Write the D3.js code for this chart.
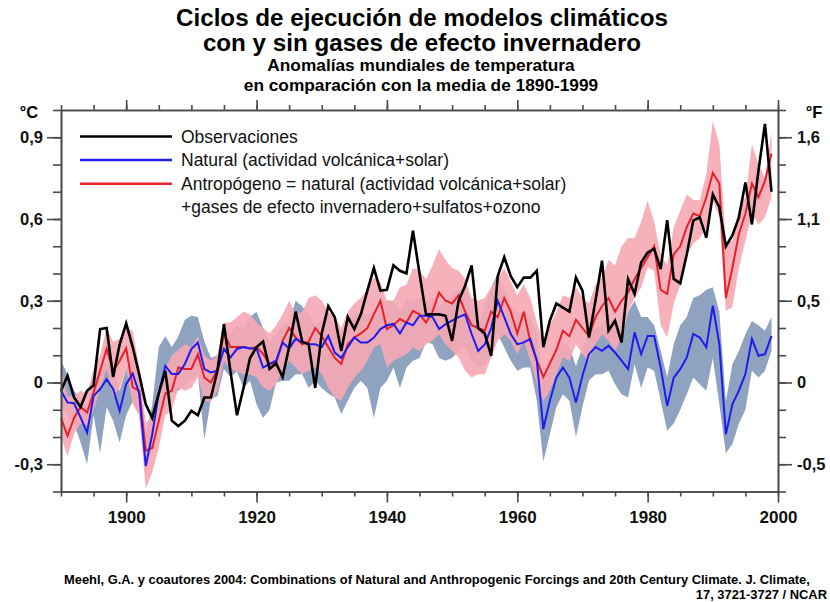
<!DOCTYPE html>
<html>
<head>
<meta charset="utf-8">
<script src="https://cdn.jsdelivr.net/npm/d3@7"></script>
<style>
  body { margin: 0; background: #fff; }
  svg { display: block; font-family: "Liberation Sans", Arial, sans-serif; }
</style>
</head>
<body>
<svg id="chart"></svg>
<script>
// datos: anomalías anuales 1890-1999 (°C)
const firstYear = 1890;

const observaciones = [
  -0.03, 0.025, -0.055, -0.09, -0.03, -0.01, 0.196, 0.20, 0.02, 0.14,
  0.217, 0.13, 0.03, -0.08, -0.13, -0.04, 0.043, -0.14, -0.16, -0.14,
  -0.104, -0.12, -0.055, -0.055, 0.043, 0.214, 0.04, -0.12, -0.02, 0.09,
  0.13, 0.15, 0.05, 0.07, 0.02, 0.13, 0.26, 0.15, 0.14, -0.02,
  0.18, 0.28, 0.24, 0.116, 0.24, 0.196, 0.25, 0.337, 0.42, 0.337,
  0.34, 0.43, 0.41, 0.40, 0.557, 0.40, 0.25, 0.25, 0.25, 0.245,
  0.153, 0.30, 0.355, 0.43, 0.20, 0.18, 0.098, 0.39, 0.46, 0.39,
  0.35, 0.385, 0.385, 0.41, 0.13, 0.227, 0.29, 0.275, 0.26, 0.385,
  0.337, 0.165, 0.30, 0.447, 0.19, 0.227, 0.147, 0.38, 0.325, 0.44,
  0.477, 0.49, 0.416, 0.596, 0.38, 0.364, 0.47, 0.594, 0.606, 0.532,
  0.69, 0.643, 0.50, 0.54, 0.606, 0.734, 0.58, 0.777, 0.949, 0.70
];

const natural = [
  -0.03, -0.073, -0.076, -0.128, -0.184, -0.05, -0.024, 0.012, -0.024, -0.104,
  -0.006, 0.033, -0.04, -0.306, -0.19, -0.04, 0.061, 0.031, 0.031, 0.068,
  0.123, 0.147, 0.049, 0.037, 0.043, 0.123, 0.092, 0.123, 0.13, 0.125,
  0.125, 0.055, 0.068, 0.08, 0.147, 0.125, 0.16, 0.147, 0.14, 0.14,
  0.13, 0.171, 0.11, 0.09, 0.13, 0.165, 0.147, 0.147, 0.165, 0.196,
  0.21, 0.215, 0.18, 0.22, 0.21, 0.245, 0.245, 0.24, 0.196, 0.214,
  0.227, 0.24, 0.25, 0.178, 0.116, 0.14, 0.20, 0.30, 0.24, 0.178,
  0.14, 0.147, 0.16, 0.08, -0.171, -0.067, 0.018, 0.055, 0.018, -0.073,
  0.025, 0.104, 0.13, 0.116, 0.135, 0.11, 0.08, 0.049, 0.184, 0.104,
  0.171, 0.171, 0.055, -0.086, 0.018, 0.049, 0.092, 0.178, 0.165, 0.129,
  0.282, 0.141, -0.19, -0.08, -0.03, 0.031, 0.16, 0.098, 0.104, 0.171
];

const naturalMax = [
  0.08, 0.03, -0.03, -0.06, -0.09, 0.02, 0.03, 0.08, 0.05, -0.03,
  0.05, 0.09, 0.01, -0.20, -0.08, 0.13, 0.17, 0.13, 0.17, 0.23,
  0.245, 0.24, 0.15, 0.09, 0.10, 0.20, 0.18, 0.21, 0.20, 0.24,
  0.26, 0.20, 0.15, 0.18, 0.21, 0.22, 0.30, 0.28, 0.25, 0.21,
  0.23, 0.26, 0.20, 0.18, 0.23, 0.25, 0.26, 0.25, 0.26, 0.29,
  0.30, 0.30, 0.26, 0.31, 0.30, 0.31, 0.30, 0.31, 0.28, 0.30,
  0.32, 0.34, 0.35, 0.30, 0.21, 0.28, 0.35, 0.40, 0.34, 0.28,
  0.26, 0.25, 0.24, 0.18, 0.02, 0.08, 0.13, 0.15, 0.13, 0.06,
  0.13, 0.18, 0.20, 0.21, 0.25, 0.21, 0.165, 0.26, 0.30, 0.24,
  0.24, 0.21, 0.116, 0.02, 0.14, 0.21, 0.24, 0.31, 0.32, 0.34,
  0.35, 0.26, -0.07, 0.067, 0.116, 0.177, 0.226, 0.21, 0.19, 0.24
];

const naturalMin = [
  -0.09, -0.12, -0.15, -0.22, -0.30, -0.12, -0.26, -0.09, -0.14, -0.22,
  -0.12, -0.07, -0.12, -0.34, -0.25, -0.10, -0.05, -0.04, -0.03, -0.01,
  0.01, 0.03, -0.21, -0.06, -0.05, 0.05, 0.02, 0.04, -0.02, 0.006,
  -0.08, -0.13, -0.10, 0.0, 0.006, 0.006, 0.03, 0.03, -0.02, 0.006,
  -0.02, -0.04, -0.055, -0.116, -0.067, -0.02, 0.006, -0.02, -0.13, -0.02,
  0.006, 0.055, -0.02, 0.055, 0.08, 0.09, 0.15, 0.14, 0.09, 0.08,
  0.09, 0.116, 0.128, 0.08, 0.055, 0.067, 0.104, 0.177, 0.128, 0.08,
  0.043, 0.055, 0.055, -0.067, -0.29, -0.19, -0.09, -0.043, -0.067, -0.20,
  -0.09, 0.006, 0.03, 0.03, 0.043, -0.006, -0.043, -0.055, 0.067, -0.02,
  0.055, 0.043, -0.067, -0.177, -0.15, -0.10, -0.043, 0.018, -0.006, -0.03,
  0.09, -0.08, -0.26, -0.226, -0.15, -0.10, 0.043, 0.018, 0.043, 0.116
];

const antropogeno = [
  -0.13, -0.196, -0.13, -0.09, -0.11, -0.037, 0.043, 0.123, 0.043, 0.08,
  0.126, -0.018, -0.03, -0.25, -0.24, -0.14, -0.04, -0.03, 0.055, 0.05,
  0.05, 0.104, 0.018, 0.0, 0.05, 0.18, 0.13, 0.13, 0.13, 0.125,
  0.13, 0.105, 0.068, 0.07, 0.153, 0.20, 0.165, 0.14, 0.15, 0.20,
  0.17, 0.13, 0.09, 0.068, 0.14, 0.165, 0.18, 0.20, 0.25, 0.30,
  0.196, 0.21, 0.233, 0.22, 0.263, 0.25, 0.22, 0.26, 0.33, 0.30,
  0.29, 0.32, 0.26, 0.21, 0.20, 0.19, 0.26, 0.24, 0.31, 0.26,
  0.18, 0.26, 0.15, 0.08, 0.02, 0.07, 0.12, 0.19, 0.17, 0.23,
  0.20, 0.17, 0.24, 0.28, 0.31, 0.26, 0.30, 0.33, 0.38, 0.42,
  0.46, 0.50, 0.34, 0.325, 0.47, 0.50, 0.57, 0.62, 0.61, 0.68,
  0.77, 0.73, 0.31, 0.42, 0.545, 0.62, 0.73, 0.68, 0.74, 0.84
];

const antropogenoMax = [
  0.05, -0.05, -0.05, -0.03, -0.04, 0.05, 0.10, 0.20, 0.15, 0.16,
  0.20, 0.19, 0.06, -0.15, -0.12, -0.03, 0.05, 0.10, 0.12, 0.14,
  0.13, 0.17, 0.10, 0.08, 0.10, 0.22, 0.22, 0.24, 0.26, 0.25,
  0.22, 0.20, 0.18, 0.21, 0.25, 0.30, 0.25, 0.26, 0.31, 0.32,
  0.30, 0.26, 0.24, 0.20, 0.26, 0.29, 0.31, 0.34, 0.385, 0.37,
  0.30, 0.30, 0.35, 0.36, 0.42, 0.41, 0.38, 0.43, 0.49, 0.45,
  0.42, 0.41, 0.38, 0.31, 0.30, 0.31, 0.35, 0.38, 0.42, 0.37,
  0.32, 0.36, 0.31, 0.22, 0.15, 0.21, 0.26, 0.32, 0.31, 0.35,
  0.31, 0.29, 0.36, 0.385, 0.45, 0.43, 0.50, 0.53, 0.53, 0.59,
  0.667, 0.59, 0.47, 0.43, 0.57, 0.63, 0.69, 0.67, 0.67, 0.765,
  0.96, 0.875, 0.51, 0.52, 0.64, 0.68, 0.875, 0.80, 0.75, 0.92
];

const antropogenoMin = [
  -0.20, -0.27, -0.19, -0.15, -0.16, -0.10, -0.03, 0.05, -0.05, -0.02,
  0.05, -0.08, -0.12, -0.39, -0.33, -0.24, -0.12, -0.10, -0.02, -0.03,
  -0.02, 0.02, -0.07, -0.07, -0.03, 0.08, 0.05, 0.04, 0.03, 0.03,
  0.018, -0.018, -0.03, -0.006, 0.043, 0.08, 0.055, 0.03, 0.043, 0.055,
  0.03, -0.018, -0.055, -0.067, -0.018, 0.018, 0.043, 0.08, 0.128, 0.14,
  0.055, 0.08, 0.092, 0.104, 0.128, 0.116, 0.14, 0.153, 0.177, 0.14,
  0.116, 0.092, 0.043, 0.018, 0.03, 0.03, 0.092, 0.153, 0.177, 0.153,
  0.104, 0.153, 0.08, -0.006, -0.067, -0.03, 0.03, 0.092, 0.08, 0.14,
  0.104, 0.08, 0.14, 0.177, 0.153, 0.116, 0.165, 0.263, 0.31, 0.349,
  0.422, 0.41, 0.21, 0.165, 0.288, 0.36, 0.47, 0.51, 0.53, 0.57,
  0.667, 0.606, 0.263, 0.276, 0.42, 0.52, 0.618, 0.58, 0.606, 0.68
];

// ejes
const celsiusTicks = [-0.3, 0, 0.3, 0.6, 0.9];
const celsiusLabels = ["-0,3", "0", "0,3", "0,6", "0,9"];
const fahrenheitLabels = ["-0,5", "0", "0,5", "1,1", "1,6"];
const minorTicks = [-0.4, -0.3, -0.2, -0.1, 0, 0.1, 0.2, 0.3, 0.4, 0.5, 0.6, 0.7, 0.8, 0.9, 1.0];
const yearTicks = [1900, 1920, 1940, 1960, 1980, 2000];
const yearMinor = [1890, 1895, 1900, 1905, 1910, 1915, 1920, 1925, 1930, 1935, 1940, 1945,
                   1950, 1955, 1960, 1965, 1970, 1975, 1980, 1985, 1990, 1995, 2000];

const legendItems = [
  { label: "Observaciones", color: "#000000" },
  { label: "Natural (actividad volcánica+solar)", color: "#1c1cf0" },
  { label: "Antropógeno = natural (actividad volcánica+solar)", color: "#e8202a" },
  { label: "+gases de efecto invernadero+sulfatos+ozono", color: null }
];

const width = 830, height = 602;
const axisColor = "#4a4a4a";

const svg = d3.select("#chart")
  .attr("width", width)
  .attr("height", height);

svg.append("rect").attr("width", width).attr("height", height).attr("fill", "#fff");

const x = d3.scaleLinear().domain([1890, 2000]).range([61, 778]);
const y = d3.scaleLinear().domain([-0.4, 1.0]).range([491.5, 110]);

const years = observaciones.map((d, i) => firstYear + i);

// bandas
const naturalBand = d3.area()
  .x((d, i) => x(years[i]))
  .y0((d, i) => y(naturalMin[i]))
  .y1((d, i) => y(naturalMax[i]));

const antroBand = d3.area()
  .x((d, i) => x(years[i]))
  .y0((d, i) => y(antropogenoMin[i]))
  .y1((d, i) => y(antropogenoMax[i]));

svg.append("path")
  .datum(naturalMax)
  .attr("d", naturalBand)
  .attr("fill", "#8fa3c0");

svg.append("path")
  .datum(antropogenoMax)
  .attr("d", antroBand)
  .attr("fill", "#f6a8b4")
  .attr("opacity", 0.9);

// lineas
const line = d3.line()
  .x((d, i) => x(years[i]))
  .y(d => y(d));

svg.append("path").datum(antropogeno).attr("d", line)
  .attr("fill", "none").attr("stroke", "#e8202a").attr("stroke-width", 2);

svg.append("path").datum(natural).attr("d", line)
  .attr("fill", "none").attr("stroke", "#1c1cf0").attr("stroke-width", 2);

svg.append("path").datum(observaciones).attr("d", line)
  .attr("fill", "none").attr("stroke", "#000").attr("stroke-width", 2.6);

// ejes y marcas
function styleAxis(g) {
  g.selectAll("path, line").attr("stroke", axisColor).attr("stroke-width", 1.6);
  g.selectAll("text").attr("fill", "#111").attr("font-weight", "bold")
    .attr("font-family", '"Liberation Sans", Arial, sans-serif');
}

// izquierda
svg.append("g").attr("transform", "translate(61,0)")
  .call(d3.axisLeft(y).tickValues(minorTicks).tickSize(8).tickSizeOuter(0).tickFormat(""))
  .call(styleAxis);
svg.append("g").attr("transform", "translate(61,0)")
  .call(d3.axisLeft(y).tickValues(celsiusTicks).tickSize(14).tickSizeOuter(0).tickPadding(4)
    .tickFormat((d, i) => celsiusLabels[i]))
  .call(styleAxis)
  .call(g => g.selectAll("text").attr("font-size", 16.5));

// derecha
svg.append("g").attr("transform", "translate(778,0)")
  .call(d3.axisRight(y).tickValues(minorTicks).tickSize(8).tickSizeOuter(0).tickFormat(""))
  .call(styleAxis);
svg.append("g").attr("transform", "translate(778,0)")
  .call(d3.axisRight(y).tickValues(celsiusTicks).tickSize(14).tickSizeOuter(0).tickPadding(5)
    .tickFormat((d, i) => fahrenheitLabels[i]))
  .call(styleAxis)
  .call(g => g.selectAll("text").attr("font-size", 16.5));

// arriba
svg.append("g").attr("transform", "translate(0,110)")
  .call(d3.axisTop(x).tickValues(yearMinor).tickSize(5).tickSizeOuter(0).tickFormat(""))
  .call(styleAxis);
svg.append("g").attr("transform", "translate(0,110)")
  .call(d3.axisTop(x).tickValues(yearTicks).tickSize(10).tickSizeOuter(0).tickFormat(""))
  .call(styleAxis);

// abajo
svg.append("g").attr("transform", "translate(0,491.5)")
  .call(d3.axisBottom(x).tickValues(yearMinor).tickSize(5).tickSizeOuter(0).tickFormat(""))
  .call(styleAxis);
svg.append("g").attr("transform", "translate(0,491.5)")
  .call(d3.axisBottom(x).tickValues(yearTicks).tickSize(11).tickSizeOuter(0).tickPadding(8)
    .tickFormat(d3.format("d")))
  .call(styleAxis)
  .call(g => g.selectAll("text").attr("font-size", 17));

// unidades
svg.append("text").attr("x", 29).attr("y", 118).attr("text-anchor", "middle")
  .attr("font-size", 16.5).attr("font-weight", "bold").text("°C");
svg.append("text").attr("x", 814).attr("y", 118).attr("text-anchor", "middle")
  .attr("font-size", 16.5).attr("font-weight", "bold").text("°F");

// leyenda
const legend = svg.append("g");
legendItems.forEach((item, i) => {
  const ly = 136.5 + i * 23.6;
  if (item.color) {
    legend.append("line")
      .attr("x1", 80).attr("x2", 172).attr("y1", ly).attr("y2", ly)
      .attr("stroke", item.color).attr("stroke-width", 2.5);
  }
  legend.append("text")
    .attr("x", 181).attr("y", ly).attr("dy", "0.35em")
    .attr("font-size", 17.5).attr("fill", "#111")
    .text(item.label);
});

// titulos
svg.append("text").attr("x", 422).attr("y", 26).attr("text-anchor", "middle")
  .attr("font-size", 24.2).attr("font-weight", "bold")
  .text("Ciclos de ejecución de modelos climáticos");
svg.append("text").attr("x", 422).attr("y", 50.5).attr("text-anchor", "middle")
  .attr("font-size", 24.2).attr("font-weight", "bold")
  .text("con y sin gases de efecto invernadero");
svg.append("text").attr("x", 421).attr("y", 71).attr("text-anchor", "middle")
  .attr("font-size", 17.3).attr("font-weight", "bold")
  .text("Anomalías mundiales de temperatura");
svg.append("text").attr("x", 421).attr("y", 90.8).attr("text-anchor", "middle")
  .attr("font-size", 17.3).attr("font-weight", "bold")
  .text("en comparación con la media de 1890-1999");

// fuente
svg.append("text").attr("x", 64).attr("y", 584)
  .attr("font-size", 12.9).attr("font-weight", "bold")
  .text("Meehl, G.A. y coautores 2004: Combinations of Natural and Anthropogenic Forcings and 20th Century Climate. J. Climate,");
svg.append("text").attr("x", 827).attr("y", 599).attr("text-anchor", "end")
  .attr("font-size", 12.9).attr("font-weight", "bold")
  .text("17, 3721-3727 / NCAR");
</script>
</body>
</html>
